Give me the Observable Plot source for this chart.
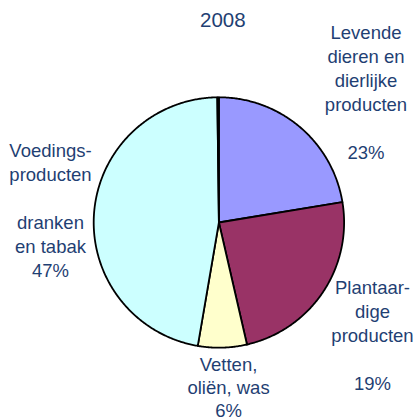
<!DOCTYPE html>
<html>
<head>
<meta charset="utf-8">
<script src="https://cdn.jsdelivr.net/npm/d3@7"></script>
<script src="https://cdn.jsdelivr.net/npm/@observablehq/plot@0.6"></script>
<style>
  html, body { margin: 0; padding: 0; background: #ffffff; }
  #chart svg { display: block; }
</style>
</head>
<body>
<div id="chart"></div>
<script>
// ---- data ----
const titleText = "2008";
const categories = [
  "Levende dieren en dierlijke producten",
  "Plantaardige producten",
  "Vetten, oliën, was",
  "Voedingsproducten, dranken en tabak",
  "Overige"
];
const shares = [22.4, 24.0, 6.3, 47.1, 0.2];
const sliceColors = ["#9999FF", "#993366", "#FFFFCC", "#CCFFFF", "#000000"];
const labelTexts = [
  "Levende\ndieren en\ndierlijke\nproducten\n\n23%",
  "Plantaar-\ndige\nproducten\n\n19%",
  "Vetten,\noliën, was\n6%",
  "Voedings-\nproducten\n\ndranken\nen tabak\n47%"
];

// ---- layout (pixels) ----
const W = 418, H = 420;
const CX = 218.4, CY = 222, R = 125.2;
const FONT = "'Liberation Sans', Arial, sans-serif";
const TEXT_COLOR = "#1f3f73";
const LABEL_SIZE = 18.5;
const TITLE_SIZE = 20.5;
const labelAnchors = [
  {x: 365.5, baseline: 38, lh: 24},
  {x: 372, baseline: 293.3, lh: 24},
  {x: 228, baseline: 370.5, lh: 22.8},
  {x: 50, baseline: 156, lh: 24}
];

// ---- pie geometry from the shares ----
const arcs = d3.pie().sort(null).value(d => d)(shares);
const pts = arcs.flatMap((a, i) => {
  const cat = categories[i];
  const n = Math.max(2, Math.ceil((a.endAngle - a.startAngle) / (Math.PI / 360)));
  const out = [{cat, x: CX, y: CY}];
  for (let k = 0; k <= n; k++) {
    const t = a.startAngle + (a.endAngle - a.startAngle) * k / n;
    out.push({cat, x: CX + R * Math.sin(t), y: CY - R * Math.cos(t)});
  }
  return out;
});

// one text datum per line; single-line Plot text puts the baseline at y + 0.32em
const labelLines = labelTexts.flatMap((block, i) =>
  block.split("\n").map((line, k) => ({
    text: line,
    x: labelAnchors[i].x,
    y: labelAnchors[i].baseline + k * labelAnchors[i].lh - 0.32 * LABEL_SIZE
  }))
).filter(d => d.text !== "");
const title = [{text: titleText, x: 222.3, y: 26 - 0.32 * TITLE_SIZE}];

const chart = Plot.plot({
  width: W,
  height: H,
  margin: 0,
  x: {domain: [0, W], range: [0, W], axis: null},
  y: {domain: [0, H], range: [0, H], axis: null},
  color: {type: "ordinal", domain: categories, range: sliceColors},
  style: {background: "#ffffff", fontFamily: FONT, overflow: "visible"},
  marks: [
    Plot.line(pts, {
      x: "x", y: "y", z: "cat", fill: "cat",
      stroke: "#000000", strokeWidth: 1.8,
      strokeLinejoin: "round", curve: "linear-closed"
    }),
    Plot.text(labelLines, {
      x: "x", y: "y", text: "text",
      textAnchor: "middle", lineAnchor: "middle",
      fontSize: LABEL_SIZE, fill: TEXT_COLOR, fontFamily: FONT
    }),
    Plot.text(title, {
      x: "x", y: "y", text: "text",
      textAnchor: "middle", lineAnchor: "middle",
      fontSize: TITLE_SIZE, fill: TEXT_COLOR, fontFamily: FONT
    })
  ]
});
document.getElementById("chart").appendChild(chart);
</script>
</body>
</html>
